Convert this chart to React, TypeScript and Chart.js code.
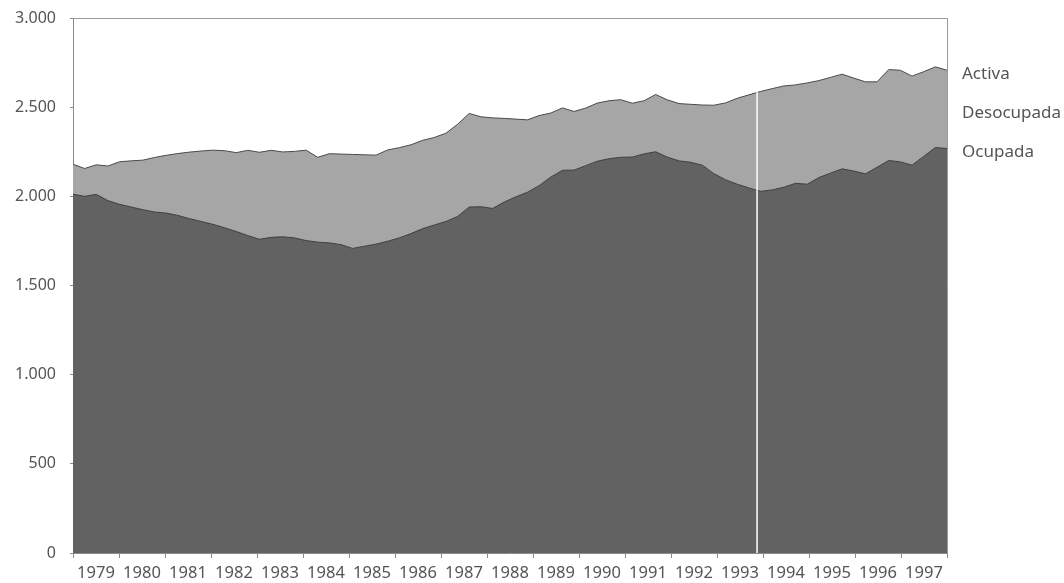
import { useEffect, useRef } from "react";
import { Chart, registerables } from "chart.js";

Chart.register(...registerables);

// Years on the horizontal axis (quarterly observations, 4 per year)
const years = [
  "1979", "1980", "1981", "1982", "1983", "1984", "1985", "1986", "1987", "1988",
  "1989", "1990", "1991", "1992", "1993", "1994", "1995", "1996", "1997",
];

// Población activa (total), quarterly, thousands
const activa = [
  2180, 2156, 2177, 2170, 2194, 2199, 2203, 2218, 2230, 2240,
  2248, 2254, 2259, 2256, 2245, 2258, 2247, 2258, 2249, 2252,
  2259, 2219, 2239, 2237, 2235, 2233, 2231, 2260, 2273, 2289,
  2314, 2330, 2354, 2404, 2465, 2446, 2440, 2437, 2433, 2429,
  2453, 2467, 2496, 2476, 2495, 2523, 2536, 2542, 2522, 2536,
  2571, 2541, 2520, 2516, 2512, 2511, 2524, 2550, 2569, 2588,
  2604, 2619, 2625, 2636, 2649, 2667, 2685, 2663, 2642, 2642,
  2711, 2707, 2674, 2699, 2726, 2707,
];

// Población ocupada, quarterly, thousands
const ocupada = [
  2012, 2000, 2011, 1976, 1955, 1940, 1925, 1912, 1906, 1893,
  1875, 1859, 1843, 1824, 1803, 1780, 1759, 1770, 1773, 1767,
  1752, 1743, 1739, 1729, 1708, 1720, 1732, 1748, 1767, 1791,
  1819, 1839, 1859, 1887, 1940, 1942, 1932, 1968, 1997, 2023,
  2060, 2108, 2146, 2147, 2172, 2197, 2211, 2219, 2220, 2238,
  2250, 2220, 2199, 2191, 2175, 2127, 2093, 2068, 2047, 2028,
  2036, 2051, 2073, 2068, 2105, 2130, 2154, 2142, 2126, 2163,
  2201, 2193, 2175, 2224, 2274, 2268,
];

const seriesLabels = ["Activa", "Desocupada", "Ocupada"];
const yTicks = [0, 500, 1000, 1500, 2000, 2500, 3000];
// quarter index at which the series break (methodological change) is marked
const breakQuarter = 58.7;

const FONT = '"Noto Sans", "Open Sans", sans-serif';
const DARK = "#626262";
const LIGHT = "#a6a6a6";
const TEXT = "#555555";

function fmt(v: number): string {
  return String(v).replace(/\B(?=(\d{3})+(?!\d))/g, ".");
}

export default function App() {
  const ref = useRef<HTMLCanvasElement | null>(null);

  useEffect(() => {
    document.body.style.margin = "0";
    const canvas = ref.current;
    if (!canvas) return;
    const n = activa.length;
    const toX = (i: number) => (i * years.length) / (n - 1);

    const decor = {
      id: "decor",
      afterDatasetsDraw(chart: any) {
        const { ctx, chartArea, scales } = chart;
        const xs = scales.x;
        const ys = scales.y;
        ctx.save();
        // series break line
        const bx = xs.getPixelForValue(toX(breakQuarter));
        ctx.strokeStyle = "#ffffff";
        ctx.lineWidth = 1.5;
        ctx.beginPath();
        ctx.moveTo(bx, chartArea.top);
        ctx.lineTo(bx, chartArea.bottom);
        ctx.stroke();
        // frame
        ctx.strokeStyle = "#9a9a9a";
        ctx.lineWidth = 1;
        ctx.beginPath();
        ctx.moveTo(chartArea.left, chartArea.top + 0.5);
        ctx.lineTo(chartArea.right + 0.5, chartArea.top + 0.5);
        ctx.lineTo(chartArea.right + 0.5, chartArea.bottom);
        ctx.stroke();
        // right-side series labels
        const lastA = activa[n - 1];
        const lastO = ocupada[n - 1];
        const ysVals = [lastA, (lastA + lastO) / 2, lastO];
        ctx.font = `17px ${FONT}`;
        ctx.fillStyle = TEXT;
        ctx.textBaseline = "middle";
        ctx.textAlign = "left";
        seriesLabels.forEach((lab, i) => {
          ctx.fillText(lab, chartArea.right + 15, ys.getPixelForValue(ysVals[i]) + 4);
        });
        ctx.restore();
      },
    };

    const chart = new Chart(canvas, {
      type: "line",
      data: {
        labels: years,
        datasets: [
          {
            label: "Ocupada",
            data: ocupada.map((v, i) => ({ x: toX(i), y: v })),
            xAxisID: "x",
            borderColor: "#3c3c3c",
            borderWidth: 1,
            backgroundColor: DARK,
            fill: "origin",
            pointRadius: 0,
            tension: 0,
          },
          {
            label: "Activa",
            data: activa.map((v, i) => ({ x: toX(i), y: v })),
            xAxisID: "x",
            borderColor: "#4a4a4a",
            borderWidth: 1,
            backgroundColor: LIGHT,
            fill: "-1",
            pointRadius: 0,
            tension: 0,
          },
        ],
      },
      options: {
        animation: false,
        responsive: true,
        maintainAspectRatio: false,
        layout: { padding: { left: 0, right: 117, top: 18, bottom: 0 } },
        plugins: {
          legend: { display: false },
          tooltip: { enabled: false },
          title: { display: false },
        },
        scales: {
          x: {
            type: "linear",
            min: 0,
            max: years.length,
            position: "bottom",
            ticks: { display: false, stepSize: 1 },
            grid: {
              display: true,
              drawOnChartArea: false,
              drawTicks: true,
              tickLength: 5,
              color: "#8a8a8a",
            },
            border: { display: true, color: "#8a8a8a" },
            afterFit: (s: any) => {
              s.height = 5;
              s.paddingLeft = 0;
              s.paddingRight = 0;
            },
          },
          x2: {
            type: "category",
            labels: years,
            offset: true,
            position: "bottom",
            grid: { display: false },
            border: { display: false },
            ticks: {
              color: TEXT,
              font: { family: FONT, size: 16.5 },
              padding: -3,
              maxRotation: 0,
              autoSkip: false,
            },
            afterFit: (s: any) => {
              s.height = 25;
              s.paddingLeft = 0;
              s.paddingRight = 0;
            },
          },
          y: {
            type: "linear",
            min: 0,
            max: 3000,
            afterBuildTicks: (s: any) => {
              s.ticks = yTicks.map((v) => ({ value: v }));
            },
            ticks: {
              color: TEXT,
              font: { family: FONT, size: 16 },
              padding: 14,
              callback: (v: any) => fmt(Number(v)),
            },
            grid: {
              display: true,
              drawOnChartArea: false,
              tickLength: 3,
              color: "#8a8a8a",
            },
            border: { display: true, color: "#8a8a8a" },
            afterFit: (s: any) => {
              s.width = 73;
              s.paddingTop = 0;
              s.paddingBottom = 0;
            },
          },
        },
      },
      plugins: [decor],
    } as any);

    return () => chart.destroy();
  }, []);

  return (
    <div style={{ position: "absolute", left: 0, top: 0, width: 1064, height: 583 }}>
      <canvas ref={ref} />
    </div>
  );
}
